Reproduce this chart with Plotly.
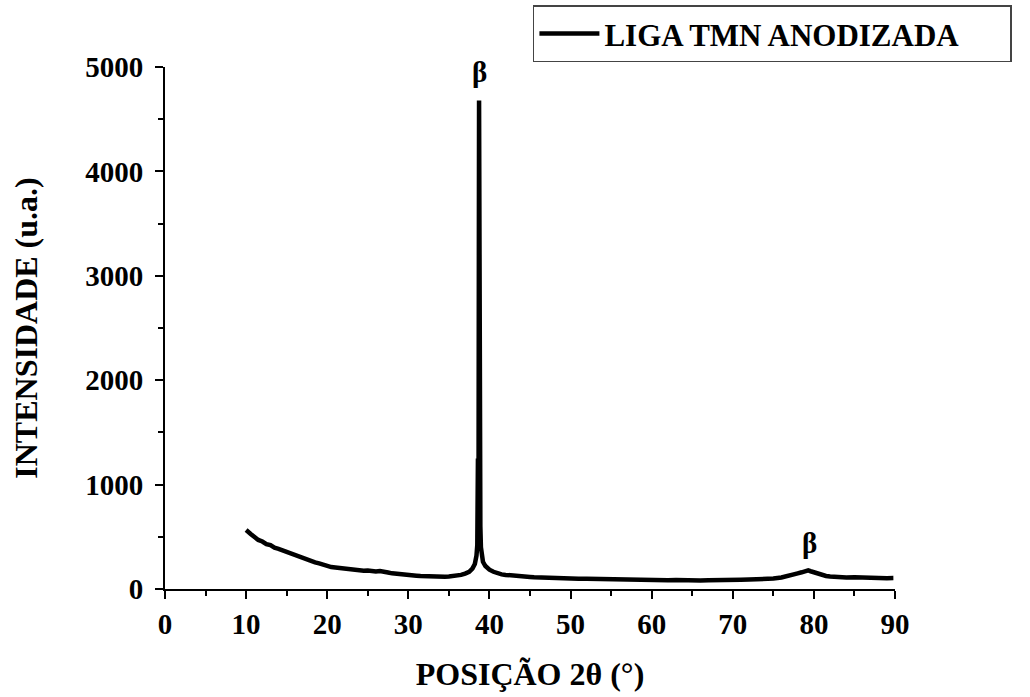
import plotly.graph_objects as go

# Diffraction pattern (2theta in degrees, intensity in a.u.)
two_theta = [10.0, 10.3, 10.6, 11.0, 11.5, 12.0, 12.5, 13.0, 13.5, 14.0, 14.5, 15.0, 15.5, 16.0,
             16.5, 17.0, 17.5, 18.0, 18.5, 19.0, 19.5, 20.0, 20.5, 21.0, 21.5, 22.0, 22.5, 23.0,
             23.5, 24.0, 24.5, 25.0, 25.5, 26.0, 26.5, 27.0, 27.5, 28.0, 28.5, 29.0, 29.5, 30.0,
             30.5, 31.0, 31.5, 32.0, 32.5, 33.0, 33.5, 34.0, 34.5, 35.0, 35.5, 36.0, 36.5, 37.0,
             37.5, 37.9, 38.2, 38.4, 38.5, 38.58, 38.65, 38.72, 38.76, 38.8, 38.84, 38.88, 38.95,
             39.05, 39.2, 39.5, 40.0, 40.5, 41.0, 41.5, 42.0, 42.5, 43.0, 43.5, 44.0, 44.5, 45.0,
             45.5, 46.0, 46.5, 47.0, 47.5, 48.0, 48.5, 49.0, 49.5, 50.0, 51.0, 52.0, 53.0, 54.0,
             55.0, 56.0, 57.0, 58.0, 59.0, 60.0, 61.0, 62.0, 63.0, 64.0, 65.0, 66.0, 67.0, 68.0,
             69.0, 70.0, 71.0, 72.0, 73.0, 74.0, 75.0, 76.0, 77.0, 77.5, 78.0, 78.5, 79.0, 79.3,
             79.6, 80.0, 80.5, 81.0, 81.5, 82.0, 82.5, 83.0, 83.5, 84.0, 85.0, 86.0, 87.0, 88.0,
             89.0, 89.8]
intensity = [565, 540, 525, 500, 470, 455, 430, 420, 395, 385, 370, 350, 340, 325,
             315, 300, 285, 270, 255, 245, 230, 215, 210, 205, 200, 195, 190, 190,
             180, 182, 175, 178, 170, 168, 172, 160, 158, 150, 148, 145, 140, 138,
             130, 128, 125, 122, 120, 118, 118, 115, 118, 120, 122, 128, 135, 148,
             165, 195, 240, 320, 420, 1250, 600, 4680, 2000, 3400, 900, 600, 400,
             320, 260, 220, 185, 165, 150, 140, 135, 130, 128, 122, 120, 118, 115,
             112, 110, 112, 108, 105, 108, 104, 102, 100, 100, 98, 97, 95, 96,
             93, 92, 90, 88, 89, 86, 85, 84, 86, 82, 83, 82, 84, 83,
             85, 86, 88, 90, 92, 96, 100, 110, 125, 135, 150, 160, 172, 178,
             170, 160, 145, 132, 125, 120, 115, 118, 112, 110, 112, 108, 106, 108,
             104, 105]

series_name = "LIGA TMN ANODIZADA"
peak_labels_x = [38.75, 79.5]
peak_labels_y = [4950, 440]
peak_label_text = ["β", "β"]

x_ticks = [0, 10, 20, 30, 40, 50, 60, 70, 80, 90]
y_ticks = [0, 1000, 2000, 3000, 4000, 5000]

FONT = "Liberation Serif"

fig = go.Figure()
fig.add_trace(go.Scatter(
    x=two_theta, y=intensity, mode="lines",
    name=series_name + "\u00a0" * 6,
    line=dict(color="black", width=4.5),
))

for xv, yv, t in zip(peak_labels_x, peak_labels_y, peak_label_text):
    fig.add_annotation(x=xv, y=yv, text="<b>%s</b>" % t, showarrow=False,
                       font=dict(family=FONT, size=29, color="black"))

axis_common = dict(
    showline=True, linecolor="black", linewidth=2,
    ticks="outside", ticklen=8, tickwidth=2, tickcolor="black",
    showgrid=False, zeroline=False,
    tickfont=dict(family=FONT, size=29, color="black", weight="bold"),
)

fig.update_xaxes(
    range=[0, 90], tickvals=x_ticks,
    minor=dict(dtick=5, ticks="outside", ticklen=5, tickwidth=2, tickcolor="black", showgrid=False),
    title=dict(text="<b>POSIÇÃO 2θ (°)</b>", font=dict(family=FONT, size=32, color="black"), standoff=24),
    **axis_common,
)
fig.update_yaxes(
    range=[0, 5000], tickvals=y_ticks, ticklabelstandoff=6,
    minor=dict(dtick=500, ticks="outside", ticklen=5, tickwidth=2, tickcolor="black", showgrid=False),
    title=dict(text="<b>INTENSIDADE (u.a.)</b>", font=dict(family=FONT, size=32, color="black"), standoff=38),
    **axis_common,
)

fig.update_layout(
    width=1030, height=697,
    margin=dict(l=165, r=135, t=67, b=108, autoexpand=False),
    paper_bgcolor="white", plot_bgcolor="white",
    showlegend=True,
    legend=dict(
        x=0.504, y=1.118, xanchor="left", yanchor="top",
        bgcolor="white", bordercolor="#444", borderwidth=1.5,
        font=dict(family=FONT, size=31, color="black", weight="bold"),
        itemwidth=60, tracegroupgap=0,
    ),
)

fig.write_html("out.html")
